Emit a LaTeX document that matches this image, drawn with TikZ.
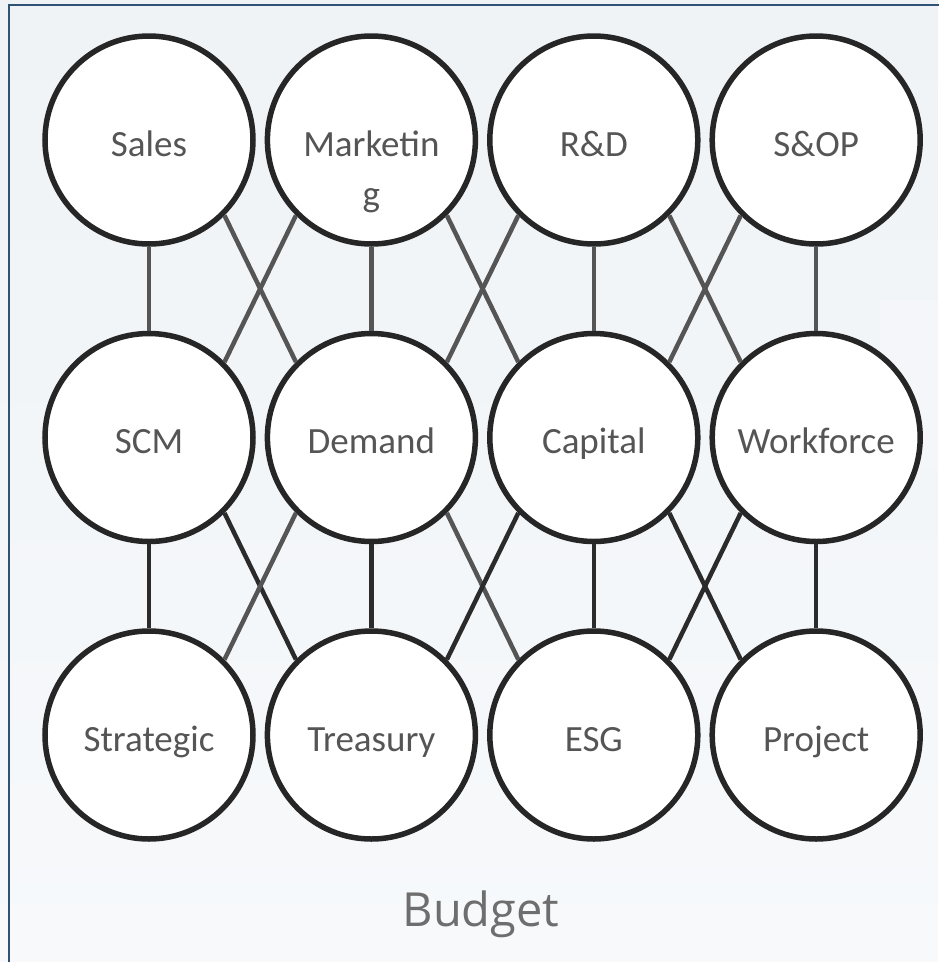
\documentclass[tikz,border=0pt]{standalone}
\usepackage{fontspec}
\setmainfont{Carlito}
\newfontfamily\labelfont{Open Sans}

\definecolor{ringgray}{HTML}{262626}
\definecolor{txtgray}{HTML}{555555}
\definecolor{linkgray}{HTML}{555555}
\definecolor{linkdark}{HTML}{2B2B2B}
\definecolor{framebl}{HTML}{2F5275}
\definecolor{bgtop}{HTML}{EFF3F6}
\definecolor{bgbot}{HTML}{F7F9FB}

\tikzset{
  unit/.style={circle, draw=ringgray, line width=5.5pt, fill=white,
    minimum size=208pt, inner sep=0pt, text=txtgray,
    font=\fontsize{37}{50}\selectfont, text height=36pt, text depth=4pt},
  linklite/.style={draw=linkgray, line width=4.5pt},
  linkdark/.style={draw=linkdark, line width=4.5pt}
}

\begin{document}
\begin{tikzpicture}[x=1pt, y=-1pt]
  % grid spacing
  \def\cx{222.4}
  \def\ry{297.5}

  \useasboundingbox (0,0) rectangle (938,962);

  % backdrop and frame
  \shade[top color=bgtop, bottom color=bgbot] (0,0) rectangle (938,962);
  \fill[bgtop!85!blue!15, opacity=0.4] (880,300) rectangle (938,470);
  \draw[framebl, line width=2.5pt] (9,1000) -- (9,5) -- (1000,5);

  % top row
  \node[unit] (sales) at (149,140) {Sales};
  \node[unit] (mkt)   at (149+\cx,140)
    {\begin{tabular}[t]{@{}c@{}}Marketin\\g\end{tabular}};
  \node[unit] (rnd)   at (149+2*\cx,140) {R\&D};
  \node[unit] (sop)   at (149+3*\cx,140) {S\&OP};

  % middle row
  \node[unit] (scm)  at (149,140+\ry) {SCM};
  \node[unit] (dem)  at (149+\cx,140+\ry) {Demand};
  \node[unit] (cap)  at (149+2*\cx,140+\ry) {Capital};
  \node[unit] (wf)   at (149+3*\cx,140+\ry) {Workforce};

  % bottom row
  \node[unit] (strat) at (149,140+2*\ry) {Strategic};
  \node[unit] (treas) at (149+\cx,140+2*\ry) {Treasury};
  \node[unit] (esg)   at (149+2*\cx,140+2*\ry) {ESG};
  \node[unit] (proj)  at (149+3*\cx,140+2*\ry) {Project};

  % links between top and middle row
  \foreach \a/\b in {sales/scm, mkt/dem, rnd/cap, sop/wf}
    \draw[linklite] (\a.south) -- (\b.north);
  \foreach \a/\b in {sales/dem, mkt/cap, rnd/wf}
    \draw[linklite] (\a.south east) -- (\b.north west);
  \foreach \a/\b in {mkt/scm, rnd/dem, sop/cap}
    \draw[linklite] (\a.south west) -- (\b.north east);

  % links between middle and bottom row
  \foreach \a/\b in {scm/strat, dem/treas, cap/esg, wf/proj}
    \draw[linkdark] (\a.south) -- (\b.north);
  \draw[linkdark] (scm.south east) -- (treas.north west);
  \draw[linklite] (dem.south east) -- (esg.north west);
  \draw[linkdark] (cap.south east) -- (proj.north west);
  \draw[linklite] (dem.south west) -- (strat.north east);
  \draw[linkdark] (cap.south west) -- (treas.north east);
  \draw[linkdark] (wf.south west) -- (esg.north east);

  % caption
  \node[anchor=base, text=txtgray!85, font=\labelfont\fontsize{47}{58}\selectfont,
    inner sep=0pt] (budget) at (481,926) {Budget};
\end{tikzpicture}
\end{document}
